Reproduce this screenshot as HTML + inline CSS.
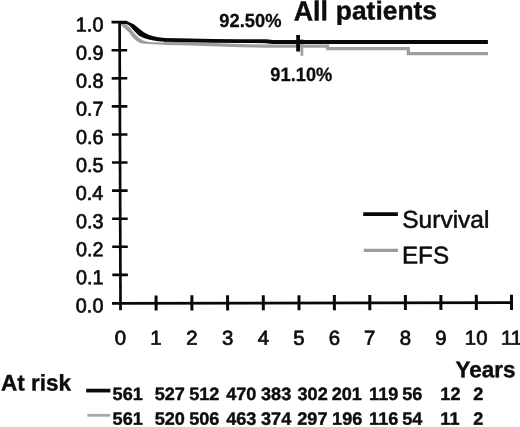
<!DOCTYPE html><html><head><meta charset="utf-8"><title>All patients</title><style>html,body{margin:0;padding:0;background:#fff}svg{display:block}text{font-family:"Liberation Sans",sans-serif;fill:#0c0c0c}</style></head><body>
<svg width="520" height="427" viewBox="0 0 520 427">
<rect width="520" height="427" fill="#fff"/>
<polygon points="119.5,22.3 124.6,23.2 129.4,27.0 134.2,33.3 139.0,38.0 143.8,40.8 148.7,42.0 153.5,42.3 165.0,42.4 165.0,44.8 153.5,44.3 143.8,43.7 140.0,42.9 136.2,40.8 132.3,37.0 129.4,32.8 124.6,28.5 120.8,25.0 119.5,24.0" fill="#9e9e9e"/>
<polyline points="164.0,43.3 181.0,43.7 212.0,44.7 240.0,45.6 264.0,46.2 300.0,46.2 327.7,46.2 327.7,48.7 408.3,48.7 408.3,53.7 487.9,53.7" fill="none" stroke="#9e9e9e" stroke-width="3.2" stroke-linejoin="miter"/>
<line x1="301.9" y1="39" x2="301.9" y2="55.7" stroke="#9e9e9e" stroke-width="2.8"/>
<polygon points="119.5,21.0 126.5,21.0 130.0,22.4 134.2,24.6 139.0,28.5 143.8,32.3 148.7,34.7 153.5,36.3 158.3,37.3 165.0,38.0 165.0,41.7 158.3,41.2 153.5,40.5 148.7,39.5 143.8,38.0 139.0,35.7 134.2,30.9 129.4,25.6 126.5,24.1 119.5,23.7" fill="#080808"/>
<polyline points="164.0,39.9 190.0,40.4 212.0,40.9 240.0,41.1 266.0,41.2 272.5,42.0 487.9,42.0" fill="none" stroke="#080808" stroke-width="3.9" stroke-linejoin="round"/>
<line x1="298.1" y1="35" x2="298.1" y2="51.5" stroke="#080808" stroke-width="3.8"/>
<g stroke="#080808">
<line x1="119.60" y1="20.90" x2="120.52" y2="310.20" stroke-width="2.7"/>
<line x1="112.00" y1="303.32" x2="512.90" y2="302.60" stroke-width="2.7"/>
<line x1="112.31" y1="274.89" x2="127.91" y2="274.85" stroke-width="2.6"/>
<line x1="112.22" y1="246.81" x2="127.82" y2="246.77" stroke-width="2.6"/>
<line x1="112.13" y1="218.73" x2="127.73" y2="218.69" stroke-width="2.6"/>
<line x1="112.04" y1="190.65" x2="127.64" y2="190.61" stroke-width="2.6"/>
<line x1="111.95" y1="162.57" x2="127.55" y2="162.53" stroke-width="2.6"/>
<line x1="111.86" y1="134.49" x2="127.46" y2="134.45" stroke-width="2.6"/>
<line x1="111.77" y1="106.41" x2="127.37" y2="106.37" stroke-width="2.6"/>
<line x1="111.68" y1="78.33" x2="127.28" y2="78.29" stroke-width="2.6"/>
<line x1="111.59" y1="50.25" x2="127.19" y2="50.21" stroke-width="2.6"/>
<line x1="111.50" y1="22.17" x2="127.10" y2="22.13" stroke-width="2.6"/>
<line x1="156.08" y1="295.44" x2="156.12" y2="310.54" stroke-width="3.0"/>
<line x1="191.88" y1="295.37" x2="191.92" y2="310.47" stroke-width="3.0"/>
<line x1="227.58" y1="295.31" x2="227.62" y2="310.41" stroke-width="3.0"/>
<line x1="263.28" y1="295.24" x2="263.32" y2="310.34" stroke-width="3.0"/>
<line x1="298.98" y1="295.18" x2="299.02" y2="310.28" stroke-width="3.0"/>
<line x1="334.38" y1="295.12" x2="334.42" y2="310.22" stroke-width="3.0"/>
<line x1="369.78" y1="295.05" x2="369.82" y2="310.15" stroke-width="3.0"/>
<line x1="405.38" y1="294.99" x2="405.42" y2="310.09" stroke-width="3.0"/>
<line x1="440.88" y1="294.93" x2="440.92" y2="310.03" stroke-width="3.0"/>
<line x1="476.28" y1="294.86" x2="476.32" y2="309.96" stroke-width="3.0"/>
<line x1="511.48" y1="294.80" x2="511.52" y2="309.90" stroke-width="3.0"/>
</g>
<text transform="translate(75.85,312.40) rotate(-0.06) scale(0.9820,1)" font-size="20.20" stroke="#0c0c0c" stroke-width="0.70" stroke-linejoin="round">0.0</text>
<text transform="translate(76.04,284.32) rotate(-0.06) scale(0.9820,1)" font-size="20.20" stroke="#0c0c0c" stroke-width="0.70" stroke-linejoin="round">0.1</text>
<text transform="translate(76.07,256.24) rotate(-0.06) scale(0.9820,1)" font-size="20.20" stroke="#0c0c0c" stroke-width="0.70" stroke-linejoin="round">0.2</text>
<text transform="translate(75.95,228.16) rotate(-0.06) scale(0.9820,1)" font-size="20.20" stroke="#0c0c0c" stroke-width="0.70" stroke-linejoin="round">0.3</text>
<text transform="translate(75.66,200.08) rotate(-0.06) scale(0.9820,1)" font-size="20.20" stroke="#0c0c0c" stroke-width="0.70" stroke-linejoin="round">0.4</text>
<text transform="translate(75.91,172.00) rotate(-0.06) scale(0.9820,1)" font-size="20.20" stroke="#0c0c0c" stroke-width="0.70" stroke-linejoin="round">0.5</text>
<text transform="translate(75.95,143.92) rotate(-0.06) scale(0.9820,1)" font-size="20.20" stroke="#0c0c0c" stroke-width="0.70" stroke-linejoin="round">0.6</text>
<text transform="translate(76.07,115.84) rotate(-0.06) scale(0.9820,1)" font-size="20.20" stroke="#0c0c0c" stroke-width="0.70" stroke-linejoin="round">0.7</text>
<text transform="translate(75.94,87.76) rotate(-0.06) scale(0.9820,1)" font-size="20.20" stroke="#0c0c0c" stroke-width="0.70" stroke-linejoin="round">0.8</text>
<text transform="translate(76.01,59.68) rotate(-0.06) scale(0.9820,1)" font-size="20.20" stroke="#0c0c0c" stroke-width="0.70" stroke-linejoin="round">0.9</text>
<text transform="translate(75.85,31.60) rotate(-0.06) scale(0.9820,1)" font-size="20.20" stroke="#0c0c0c" stroke-width="0.70" stroke-linejoin="round">1.0</text>
<text transform="translate(114.83,344.65) rotate(-0.06) scale(1.0100,1)" font-size="20.20" stroke="#0c0c0c" stroke-width="0.70" stroke-linejoin="round">0</text>
<text transform="translate(150.15,344.65) rotate(-0.06) scale(1.0100,1)" font-size="20.20" stroke="#0c0c0c" stroke-width="0.70" stroke-linejoin="round">1</text>
<text transform="translate(186.23,344.65) rotate(-0.06) scale(1.0100,1)" font-size="20.20" stroke="#0c0c0c" stroke-width="0.70" stroke-linejoin="round">2</text>
<text transform="translate(221.99,344.65) rotate(-0.06) scale(1.0100,1)" font-size="20.20" stroke="#0c0c0c" stroke-width="0.70" stroke-linejoin="round">3</text>
<text transform="translate(257.69,344.65) rotate(-0.06) scale(1.0100,1)" font-size="20.20" stroke="#0c0c0c" stroke-width="0.70" stroke-linejoin="round">4</text>
<text transform="translate(293.35,344.65) rotate(-0.06) scale(1.0100,1)" font-size="20.20" stroke="#0c0c0c" stroke-width="0.70" stroke-linejoin="round">5</text>
<text transform="translate(328.66,344.65) rotate(-0.06) scale(1.0100,1)" font-size="20.20" stroke="#0c0c0c" stroke-width="0.70" stroke-linejoin="round">6</text>
<text transform="translate(364.12,344.65) rotate(-0.06) scale(1.0100,1)" font-size="20.20" stroke="#0c0c0c" stroke-width="0.70" stroke-linejoin="round">7</text>
<text transform="translate(399.73,344.65) rotate(-0.06) scale(1.0100,1)" font-size="20.20" stroke="#0c0c0c" stroke-width="0.70" stroke-linejoin="round">8</text>
<text transform="translate(435.23,344.65) rotate(-0.06) scale(1.0100,1)" font-size="20.20" stroke="#0c0c0c" stroke-width="0.70" stroke-linejoin="round">9</text>
<text transform="translate(464.87,344.65) rotate(-0.06) scale(1.0100,1)" font-size="20.20" stroke="#0c0c0c" stroke-width="0.70" stroke-linejoin="round">10</text>
<text transform="translate(500.97,344.65) rotate(-0.06) scale(1.0100,1)" font-size="20.20" stroke="#0c0c0c" stroke-width="0.70" stroke-linejoin="round">11</text>
<text transform="translate(293.73,20.40) rotate(-0.06) scale(0.9716,1)" font-size="27.60" font-weight="bold" stroke="#0c0c0c" stroke-width="0.40" stroke-linejoin="round">All</text>
<text transform="translate(335.76,19.45) rotate(-0.06) scale(1.0165,1)" font-size="26.00" font-weight="bold" stroke="#0c0c0c" stroke-width="0.40" stroke-linejoin="round">patients</text>
<text transform="translate(219.32,27.00) rotate(-0.06) scale(0.9691,1)" font-size="18.90" font-weight="bold" stroke="#0c0c0c" stroke-width="0.30" stroke-linejoin="round">92.50%</text>
<text transform="translate(270.32,81.00) rotate(-0.06) scale(0.9524,1)" font-size="19.20" font-weight="bold" stroke="#0c0c0c" stroke-width="0.30" stroke-linejoin="round">91.10%</text>
<line x1="363.2" y1="214.1" x2="397.9" y2="214.1" stroke="#080808" stroke-width="3.8"/>
<line x1="363.8" y1="250.3" x2="397.9" y2="250.3" stroke="#9c9c9c" stroke-width="3.2"/>
<text transform="translate(402.24,227.80) rotate(-0.06) scale(1.0096,1)" font-size="24.30" stroke="#0c0c0c" stroke-width="0.50" stroke-linejoin="round">Survival</text>
<text transform="translate(401.96,263.45) rotate(-0.06) scale(0.9966,1)" font-size="24.30" stroke="#0c0c0c" stroke-width="0.50" stroke-linejoin="round">EFS</text>
<text transform="translate(455.52,377.20) rotate(-0.06) scale(0.9912,1)" font-size="22.70" font-weight="bold" stroke="#0c0c0c" stroke-width="0.40" stroke-linejoin="round">Years</text>
<text transform="translate(0.94,390.55) rotate(-0.06) scale(0.9957,1)" font-size="22.60" font-weight="bold" stroke="#0c0c0c" stroke-width="0.40" stroke-linejoin="round">At risk</text>
<line x1="86.2" y1="390.6" x2="110.4" y2="390.6" stroke="#080808" stroke-width="3.7"/>
<line x1="87.4" y1="415.3" x2="110.2" y2="415.3" stroke="#a8a8a8" stroke-width="2.8"/>
<text transform="translate(112.54,400.00) rotate(-0.06) scale(1.0200,1)" font-size="17.80" font-weight="bold" stroke="#0c0c0c" stroke-width="0.40" stroke-linejoin="round">561</text>
<text transform="translate(154.64,400.00) rotate(-0.06) scale(1.0200,1)" font-size="17.80" font-weight="bold" stroke="#0c0c0c" stroke-width="0.40" stroke-linejoin="round">527</text>
<text transform="translate(189.14,400.00) rotate(-0.06) scale(1.0200,1)" font-size="17.80" font-weight="bold" stroke="#0c0c0c" stroke-width="0.40" stroke-linejoin="round">512</text>
<text transform="translate(226.13,400.00) rotate(-0.06) scale(1.0200,1)" font-size="17.80" font-weight="bold" stroke="#0c0c0c" stroke-width="0.40" stroke-linejoin="round">470</text>
<text transform="translate(260.98,400.00) rotate(-0.06) scale(1.0200,1)" font-size="17.80" font-weight="bold" stroke="#0c0c0c" stroke-width="0.40" stroke-linejoin="round">383</text>
<text transform="translate(297.48,400.00) rotate(-0.06) scale(1.0200,1)" font-size="17.80" font-weight="bold" stroke="#0c0c0c" stroke-width="0.40" stroke-linejoin="round">302</text>
<text transform="translate(331.67,400.00) rotate(-0.06) scale(1.0200,1)" font-size="17.80" font-weight="bold" stroke="#0c0c0c" stroke-width="0.40" stroke-linejoin="round">201</text>
<text transform="translate(369.06,400.00) rotate(-0.06) scale(1.0200,1)" font-size="17.80" font-weight="bold" stroke="#0c0c0c" stroke-width="0.40" stroke-linejoin="round">119</text>
<text transform="translate(402.14,400.00) rotate(-0.06) scale(1.0200,1)" font-size="17.80" font-weight="bold" stroke="#0c0c0c" stroke-width="0.40" stroke-linejoin="round">56</text>
<text transform="translate(440.36,400.00) rotate(-0.06) scale(1.0200,1)" font-size="17.80" font-weight="bold" stroke="#0c0c0c" stroke-width="0.40" stroke-linejoin="round">12</text>
<text transform="translate(473.37,400.00) rotate(-0.06) scale(1.0200,1)" font-size="17.80" font-weight="bold" stroke="#0c0c0c" stroke-width="0.40" stroke-linejoin="round">2</text>
<text transform="translate(112.54,424.80) rotate(-0.06) scale(1.0200,1)" font-size="17.80" font-weight="bold" stroke="#0c0c0c" stroke-width="0.40" stroke-linejoin="round">561</text>
<text transform="translate(154.64,424.80) rotate(-0.06) scale(1.0200,1)" font-size="17.80" font-weight="bold" stroke="#0c0c0c" stroke-width="0.40" stroke-linejoin="round">520</text>
<text transform="translate(189.14,424.80) rotate(-0.06) scale(1.0200,1)" font-size="17.80" font-weight="bold" stroke="#0c0c0c" stroke-width="0.40" stroke-linejoin="round">506</text>
<text transform="translate(226.13,424.80) rotate(-0.06) scale(1.0200,1)" font-size="17.80" font-weight="bold" stroke="#0c0c0c" stroke-width="0.40" stroke-linejoin="round">463</text>
<text transform="translate(260.98,424.80) rotate(-0.06) scale(1.0200,1)" font-size="17.80" font-weight="bold" stroke="#0c0c0c" stroke-width="0.40" stroke-linejoin="round">374</text>
<text transform="translate(297.27,424.80) rotate(-0.06) scale(1.0200,1)" font-size="17.80" font-weight="bold" stroke="#0c0c0c" stroke-width="0.40" stroke-linejoin="round">297</text>
<text transform="translate(332.06,424.80) rotate(-0.06) scale(1.0200,1)" font-size="17.80" font-weight="bold" stroke="#0c0c0c" stroke-width="0.40" stroke-linejoin="round">196</text>
<text transform="translate(369.06,424.80) rotate(-0.06) scale(1.0200,1)" font-size="17.80" font-weight="bold" stroke="#0c0c0c" stroke-width="0.40" stroke-linejoin="round">116</text>
<text transform="translate(402.14,424.80) rotate(-0.06) scale(1.0200,1)" font-size="17.80" font-weight="bold" stroke="#0c0c0c" stroke-width="0.40" stroke-linejoin="round">54</text>
<text transform="translate(440.36,424.80) rotate(-0.06) scale(1.0200,1)" font-size="17.80" font-weight="bold" stroke="#0c0c0c" stroke-width="0.40" stroke-linejoin="round">11</text>
<text transform="translate(473.37,424.80) rotate(-0.06) scale(1.0200,1)" font-size="17.80" font-weight="bold" stroke="#0c0c0c" stroke-width="0.40" stroke-linejoin="round">2</text>
</svg></body></html>
